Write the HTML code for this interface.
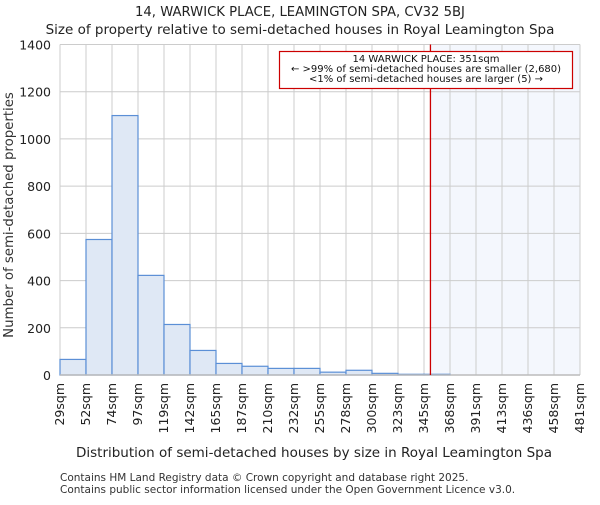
<!DOCTYPE html>
<html><head><meta charset="utf-8"><style>body{margin:0;background:#fff}svg{font-family:"DejaVu Sans","Liberation Sans",sans-serif}</style></head>
<body>
<svg id="c" width="600" height="500" xmlns="http://www.w3.org/2000/svg">
<text x="300" y="16" text-anchor="middle" font-size="13.2" fill="#222">14, WARWICK PLACE, LEAMINGTON SPA, CV32 5BJ</text>
<text x="300" y="34" text-anchor="middle" font-size="13.5" fill="#222">Size of property relative to semi-detached houses in Royal Leamington Spa</text>
<g id="plot"></g>
<text x="314" y="457" text-anchor="middle" font-size="13.5" fill="#222">Distribution of semi-detached houses by size in Royal Leamington Spa</text>
<text transform="translate(13,215) rotate(-90)" text-anchor="middle" font-size="13.3" fill="#333">Number of semi-detached properties</text>
<text x="60" y="481" font-size="10.5" fill="#333">Contains HM Land Registry data © Crown copyright and database right 2025.</text>
<text x="60" y="493" font-size="10.5" fill="#333">Contains public sector information licensed under the Open Government Licence v3.0.</text>
</svg>
<script>
const binLabels=["29sqm","52sqm","74sqm","97sqm","119sqm","142sqm","165sqm","187sqm","210sqm","232sqm","255sqm","278sqm","300sqm","323sqm","345sqm","368sqm","391sqm","413sqm","436sqm","458sqm","481sqm"];
const binStarts=[29,51.6,74.2,96.8,119.4,142,164.6,187.2,209.8,232.4,255,277.6,300.2,322.8,345.4,368,390.6,413.2,435.8,458.4,481];
const counts=[66,574,1099,422,214,104,49,37,28,28,12,20,7,3,3,0,0,0,0,0];
const yTicks=[0,200,400,600,800,1000,1200,1400];
const subjectSize=351;
const NS="http://www.w3.org/2000/svg";
const L=60,R=580,T=44.5,B=375,xmin=29,xmax=481,ymax=1400;
const xs=v=>L+(v-xmin)/(xmax-xmin)*(R-L);
const ys=v=>B-v/ymax*(B-T);
const g=document.getElementById('plot');
function mk(t,a){const e=document.createElementNS(NS,t);for(const k in a)e.setAttribute(k,a[k]);g.appendChild(e);return e;}
let sh=mk('rect',{x:xs(subjectSize),y:T,width:R-xs(subjectSize),height:B-T,fill:'#f4f7fd'});


yTicks.forEach(v=>{
 let l=mk('line',{x1:L,x2:R,y1:ys(v),y2:ys(v),stroke:'#cccccc','stroke-width':1});
 
 
 let t=mk('text',{x:L-9,y:ys(v)+5,'text-anchor':'end','font-size':'12.5',fill:'#222'});t.textContent=v;
 
 
});
binStarts.forEach((v,i)=>{
 let l=mk('line',{x1:xs(v),x2:xs(v),y1:T,y2:B,stroke:'#cccccc','stroke-width':1});
 
 
 let x=xs(v)+4;
 let t=mk('text',{transform:`translate(${x},383) rotate(-90)`,'text-anchor':'end','font-size':'12.5',fill:'#222'});t.textContent=binLabels[i];
 
 
});
counts.forEach((c,i)=>{
 if(c<=0)return;
 let r=mk('rect',{x:xs(binStarts[i]),y:ys(c),width:xs(binStarts[i+1])-xs(binStarts[i]),height:B-ys(c),fill:'#dfe8f5',stroke:'#5b8fd6','stroke-width':1.2});
 
 
});
let ax=mk('line',{x1:L,x2:R,y1:B,y2:B,stroke:'#bbbbbb','stroke-width':1.5});


let ml=mk('line',{x1:xs(subjectSize),x2:xs(subjectSize),y1:T,y2:B,stroke:'#cc0000','stroke-width':1.3});


let bx=mk('rect',{x:279.5,y:51.5,width:293,height:37,fill:'#fff',stroke:'#cc0000','stroke-width':1.2});


["14 WARWICK PLACE: 351sqm","← >99% of semi-detached houses are smaller (2,680)","<1% of semi-detached houses are larger (5) →"].forEach((s,i)=>{
 let t=mk('text',{x:426,y:62+i*10,'text-anchor':'middle','font-size':'10',fill:'#111'});t.textContent=s;
 
 
});
</script>
</body></html>
